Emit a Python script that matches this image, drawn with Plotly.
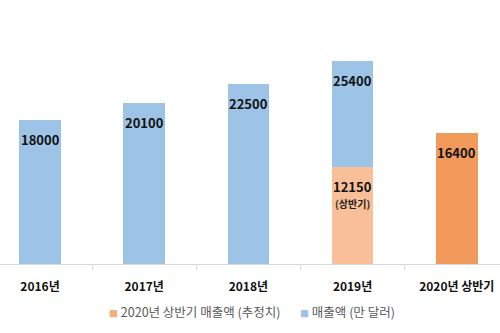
import plotly.graph_objects as go

categories = ["2016년", "2017년", "2018년", "2019년", "2020년 상반기"]
total_sales = [18000, 20100, 22500, 25400, None]
first_half = [None, None, None, 12150, 16400]
half_notes = [None, None, None, "(상반기)", None]
half_colors = ["#F8BF98", "#F8BF98", "#F8BF98", "#F8BF98", "#F29A5C"]
legend_names = ["2020년 상반기 매출액 (추정치)", "매출액 (만 달러)"]
legend_colors = ["#F4AE80", "#9DC3E6"]

blue_part = []
for t, h in zip(total_sales, first_half):
    if t is None:
        blue_part.append(None)
    else:
        blue_part.append(t - (h or 0))

FONT = "Noto Sans CJK KR"

fig = go.Figure()
fig.add_trace(go.Bar(
    x=categories, y=first_half, name=legend_names[0],
    marker=dict(color=half_colors, line=dict(width=0)), width=0.4,
    hoverinfo="skip", showlegend=False,
))
fig.add_trace(go.Bar(
    x=categories, y=blue_part, name=legend_names[1],
    marker=dict(color="#9DC3E6", line=dict(width=0)), width=0.4,
    hoverinfo="skip", showlegend=False,
))

annotations = []
for c, t in zip(categories, total_sales):
    if t is not None:
        annotations.append(dict(x=c, y=t, text=f"<b>{t}</b>", showarrow=False,
                                yanchor="top", yshift=-8,
                                font=dict(family=FONT, size=13, color="#111")))
for c, h, note in zip(categories, first_half, half_notes):
    if h is None:
        continue
    annotations.append(dict(x=c, y=h, text=f"<b>{h}</b>", showarrow=False,
                            yanchor="top", yshift=-8,
                            font=dict(family=FONT, size=13, color="#111")))
    if note:
        annotations.append(dict(x=c, y=h, text=f"<b>{note}</b>", showarrow=False,
                                yanchor="top", yshift=-27,
                                font=dict(family=FONT, size=10, color="#222")))

legend_text = "&nbsp;&nbsp;&nbsp;&nbsp;&nbsp;&nbsp;&nbsp;".join(
    f"<span style='color:{col};font-size:9px'>■</span> {name}"
    for name, col in zip(legend_names, legend_colors)
)
annotations.append(dict(xref="paper", yref="paper", x=0.503, y=-0.18,
                        xanchor="center", yanchor="middle", showarrow=False,
                        text=legend_text,
                        font=dict(family=FONT, size=12.5, color="#595959")))

fig.update_layout(
    width=500, height=333,
    margin=dict(l=0, r=0, t=0, b=69),
    barmode="stack",
    plot_bgcolor="white", paper_bgcolor="white",
    font=dict(family=FONT),
    annotations=annotations,
    showlegend=False,
    xaxis=dict(range=[-0.384, 4.415], showline=True, linecolor="#D9D9D9", linewidth=1,
               ticks="outside", tickson="boundaries", ticklen=5, tickcolor="#D9D9D9",
               ticklabelstandoff=12,
               tickfont=dict(family=FONT, size=12, color="#111", weight="bold"),
               showgrid=False),
    yaxis=dict(range=[0, 33000], visible=False, showgrid=False),
)

fig.write_html("out.html")
